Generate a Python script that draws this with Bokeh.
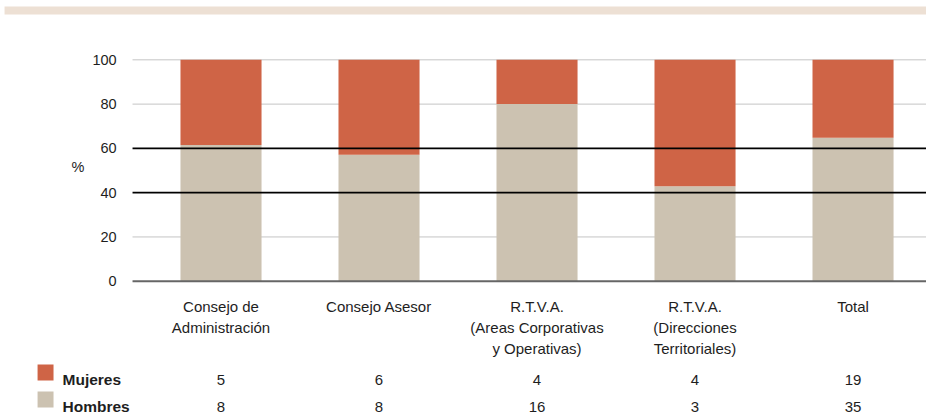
from bokeh.plotting import figure
from bokeh.models import Range1d, ColumnDataSource
from bokeh.core.properties import value
from bokeh.embed import file_html
from bokeh.resources import INLINE

# ---- data ----
categories = ["Consejo de\nAdministración", "Consejo Asesor",
              "R.T.V.A.\n(Areas Corporativas\ny Operativas)",
              "R.T.V.A.\n(Direcciones\nTerritoriales)", "Total"]
hombres_pct = [61.5, 57.1, 80.0, 42.9, 64.8]
mujeres_pct = [38.5, 42.9, 20.0, 57.1, 35.2]
mujeres_n = [5, 6, 4, 4, 19]
hombres_n = [8, 8, 16, 3, 35]
series_names = ["Mujeres", "Hombres"]
y_ticks = [0, 20, 40, 60, 80, 100]
light_grid = [20, 80, 100]
dark_grid = [40, 60]
axis_label = "%"

# ---- style ----
C_MUJ = "#CF6446"
C_HOM = "#CCC2B1"
C_BAND = "#EDE0D4"
TXT = "#1e1e1e"
FONT = "Liberation Sans"

# layout constants (data units of the frame)
X_LEFT = -0.560      # plot-area left edge
X_RIGHT = 4.465
BAR_W = 0.513
ROW_Y = [-44.4, -56.6]          # baselines of the two table rows
SWATCH_X = (-1.161, -1.060)

xs = list(range(len(categories)))
src = ColumnDataSource(dict(x=xs, hombres=hombres_pct, mujeres=mujeres_pct,
                            cat=categories,
                            mn=[str(v) for v in mujeres_n],
                            hn=[str(v) for v in hombres_n]))

p = figure(width=926, height=416, output_backend="svg", toolbar_location=None,
           x_range=Range1d(-1.3956, 4.465), y_range=Range1d(-61.1, 126.8),
           min_border=0)
p.outline_line_color = None
p.axis.visible = False
p.grid.visible = False

# top band
p.quad(left=[-1.370], right=[X_RIGHT], bottom=[120.5], top=[124.1],
       fill_color=C_BAND, line_color=None)

# light grid lines (behind bars)
p.segment(x0=[X_LEFT] * len(light_grid), x1=[X_RIGHT] * len(light_grid),
          y0=light_grid, y1=light_grid, line_color="#c4c4c4", line_width=1)

# bars
p.vbar_stack(["hombres", "mujeres"], x="x", width=BAR_W, source=src,
             color=[C_HOM, C_MUJ], line_color=None)

# dark lines over bars
p.segment(x0=[X_LEFT] * len(dark_grid), x1=[X_RIGHT] * len(dark_grid),
          y0=dark_grid, y1=dark_grid, line_color="#000000", line_width=1.6)
# baseline
p.segment(x0=[X_LEFT], x1=[X_RIGHT], y0=[0], y1=[0], line_color="#666666", line_width=2)

# y tick labels
p.text(x=[-0.661] * len(y_ticks), y=y_ticks, text=[str(t) for t in y_ticks],
       text_align="right", text_baseline="middle",
       text_font=value(FONT), text_font_size="14.5px", text_color=TXT)
# axis label
p.text(x=[-0.905], y=[51.4], text=[axis_label], text_align="center", text_baseline="middle",
       text_font=value(FONT), text_font_size="14.5px", text_color=TXT)

# category labels
p.text(x="x", y=-7.7, text="cat", source=src, text_align="center", text_baseline="top",
       text_font=value(FONT), text_font_size="15px", text_color=TXT, text_line_height=1.24)

# number rows
p.text(x="x", y=ROW_Y[0], text="mn", source=src, text_align="center", text_baseline="alphabetic",
       text_font=value(FONT), text_font_size="15px", text_color=TXT)
p.text(x="x", y=ROW_Y[1], text="hn", source=src, text_align="center", text_baseline="alphabetic",
       text_font=value(FONT), text_font_size="15px", text_color=TXT)

# row legend: swatches + bold names
p.quad(left=[SWATCH_X[0]] * 2, right=[SWATCH_X[1]] * 2,
       bottom=[y - 0.4 for y in ROW_Y], top=[y + 6.8 for y in ROW_Y],
       fill_color=[C_MUJ, C_HOM], line_color=None)
p.text(x=[-1.003, -1.003], y=[y + 0.2 for y in ROW_Y], text=series_names,
       text_align="left", text_baseline="alphabetic",
       text_font=value(FONT), text_font_size="15.5px", text_font_style="bold", text_color=TXT)

open("out.html", "w").write(file_html(p, INLINE))
